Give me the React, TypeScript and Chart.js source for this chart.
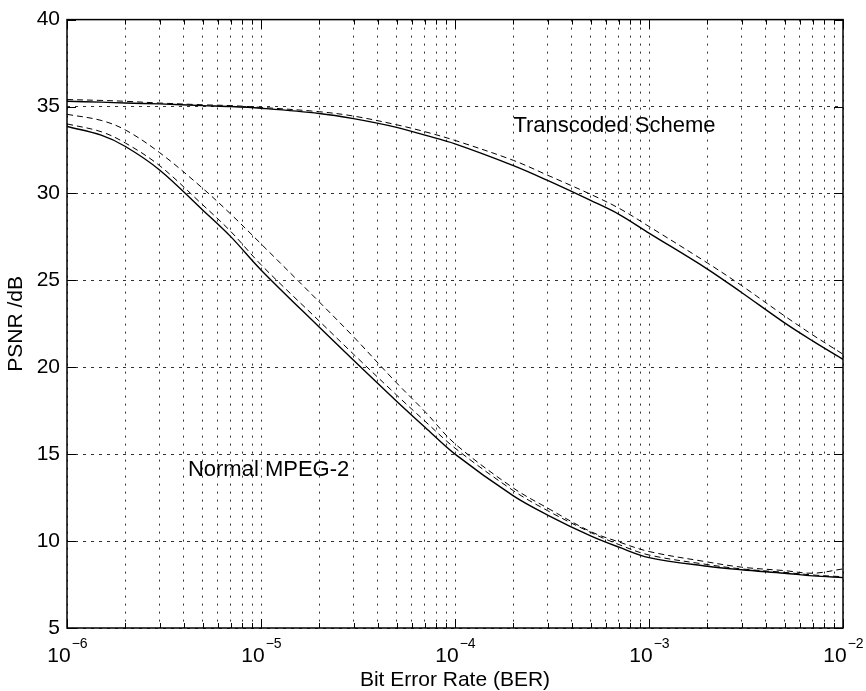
import React, { useEffect, useRef } from "react";
import { Chart, registerables } from "chart.js";

Chart.register(...registerables);

// ---- data ----
const BER = [1e-6, 1.5e-6, 2e-6, 3e-6, 5e-6, 7e-6, 1e-5, 2e-5, 3e-5, 5e-5, 7e-5, 1e-4, 2e-4, 3e-4, 5e-4, 7e-4, 1e-3, 2e-3, 3e-3, 5e-3, 7e-3, 1e-2];
const transcodedSolid = [35.3, 35.25, 35.2, 35.15, 35.05, 35.0, 34.9, 34.6, 34.3, 33.8, 33.35, 32.85, 31.6, 30.75, 29.6, 28.8, 27.72, 25.65, 24.3, 22.55, 21.5, 20.45];
const transcodedDashed = [35.4, 35.35, 35.3, 35.2, 35.1, 35.05, 34.95, 34.7, 34.45, 33.95, 33.55, 33.05, 31.9, 31.05, 29.95, 29.15, 28.1, 26.0, 24.7, 22.95, 21.85, 20.75];
const mpegSolid = [33.85, 33.35, 32.7, 31.35, 29.05, 27.5, 25.6, 22.3, 20.4, 18.05, 16.55, 15.0, 12.6, 11.5, 10.3, 9.65, 9.05, 8.55, 8.35, 8.15, 8.0, 7.9];
const mpegDashedLow = [34.0, 33.55, 32.9, 31.6, 29.35, 27.8, 25.9, 22.65, 20.75, 18.4, 16.9, 15.35, 12.9, 11.75, 10.5, 9.8, 9.2, 8.65, 8.4, 8.2, 8.05, 7.95];
const mpegDashedHigh = [34.55, 34.2, 33.65, 32.35, 30.3, 28.8, 27.1, 23.75, 21.75, 19.1, 17.45, 15.6, 13.05, 11.9, 10.55, 9.95, 9.4, 8.8, 8.5, 8.3, 8.15, 8.4];

const X_DECADES = [1e-6, 1e-5, 1e-4, 1e-3, 1e-2];
const X_EXPONENTS = ["\u22126", "\u22125", "\u22124", "\u22123", "\u22122"];
const X_MINOR_MULT = [2, 3, 4, 5, 6, 7, 8, 9];
const Y_MIN = 5;
const Y_MAX = 40;
const Y_STEP = 5;

const ANNOTATIONS = [
  { text: "Transcoded Scheme", x: 2.0e-4, y: 33.9 },
  { text: "Normal MPEG-2", x: 4.2e-6, y: 14.1 },
];

const FONT = "'Liberation Sans', Arial, Helvetica, sans-serif";

const X_TICKS: { value: number; major: boolean }[] = [];
X_DECADES.forEach((d, i) => {
  X_TICKS.push({ value: d, major: true });
  if (i < X_DECADES.length - 1) X_MINOR_MULT.forEach((m) => X_TICKS.push({ value: d * m, major: false }));
});

const toPoints = (ys: number[]) => BER.map((x, i) => ({ x, y: ys[i] }));

const framePlugin = {
  id: "matlabFrame",
  afterDraw(chart: any) {
    const { ctx, chartArea: a, scales } = chart;
    const xs = scales.x;
    const ys = scales.y;
    ctx.save();
    ctx.setLineDash([]);
    ctx.strokeStyle = "#000";
    // inner ticks
    ctx.lineWidth = 1;
    ctx.beginPath();
    for (const t of X_TICKS) {
      const px = Math.round(xs.getPixelForValue(t.value)) + 0.5;
      const len = t.major ? 9 : 5;
      ctx.moveTo(px, a.bottom);
      ctx.lineTo(px, a.bottom - len);
      ctx.moveTo(px, a.top);
      ctx.lineTo(px, a.top + len);
    }
    for (let v = Y_MIN; v <= Y_MAX; v += Y_STEP) {
      const py = Math.round(ys.getPixelForValue(v)) + 0.5;
      ctx.moveTo(a.left, py);
      ctx.lineTo(a.left + 9, py);
      ctx.moveTo(a.right, py);
      ctx.lineTo(a.right - 9, py);
    }
    ctx.stroke();
    // frame
    ctx.lineWidth = 1.5;
    ctx.strokeRect(a.left, a.top, a.right - a.left, a.bottom - a.top);

    // x tick labels 10^n
    ctx.fillStyle = "#000";
    ctx.textBaseline = "alphabetic";
    ctx.textAlign = "left";
    X_DECADES.forEach((d, i) => {
      const px = xs.getPixelForValue(d);
      ctx.font = `21px ${FONT}`;
      const wBase = ctx.measureText("10").width;
      ctx.font = `14px ${FONT}`;
      const wExp = ctx.measureText(X_EXPONENTS[i]).width;
      const start = px - (wBase + wExp) / 2;
      ctx.font = `21px ${FONT}`;
      ctx.fillText("10", start, a.bottom + 34);
      ctx.font = `14px ${FONT}`;
      ctx.fillText(X_EXPONENTS[i], start + wBase + 1, a.bottom + 20);
    });

    // annotations
    ctx.font = `22px ${FONT}`;
    ctx.textBaseline = "middle";
    ctx.textAlign = "left";
    for (const an of ANNOTATIONS) {
      ctx.fillText(an.text, xs.getPixelForValue(an.x), ys.getPixelForValue(an.y));
    }
    ctx.restore();
  },
};

export default function App() {
  const canvasRef = useRef<HTMLCanvasElement | null>(null);

  useEffect(() => {
    if (!canvasRef.current) return;
    const solid = { borderColor: "#000", borderWidth: 1.4, pointRadius: 0, fill: false, tension: 0.35 };
    const dashed = { borderColor: "#000", borderWidth: 1, borderDash: [6, 4], pointRadius: 0, fill: false, tension: 0.35 };
    const chart = new Chart(canvasRef.current, {
      type: "line",
      data: {
        datasets: [
          { label: "Transcoded Scheme (solid)", data: toPoints(transcodedSolid), ...solid },
          { label: "Transcoded Scheme (dashed)", data: toPoints(transcodedDashed), ...dashed },
          { label: "Normal MPEG-2 (solid)", data: toPoints(mpegSolid), ...solid },
          { label: "Normal MPEG-2 (dashed, low)", data: toPoints(mpegDashedLow), ...dashed },
          { label: "Normal MPEG-2 (dashed, high)", data: toPoints(mpegDashedHigh), ...dashed },
        ],
      },
      options: {
        responsive: false,
        animation: false,
        layout: { padding: { top: 15, right: 23, left: 0, bottom: 0 } },
        plugins: { legend: { display: false }, tooltip: { enabled: false } },
        scales: {
          x: {
            type: "logarithmic",
            min: 1e-6,
            max: 1e-2,
            afterBuildTicks: (scale: any) => {
              scale.ticks = X_TICKS.map((t) => ({ value: t.value }));
            },
            afterFit: (scale: any) => {
              scale.height = 63;
            },
            ticks: { display: false },
            grid: { color: "#333", lineWidth: 1, drawTicks: false },
            border: { display: false, dash: [2, 6] },
            title: {
              display: true,
              text: "Bit Error Rate (BER)",
              color: "#000",
              font: { family: FONT, size: 21, lineHeight: 1 },
              padding: { top: 0, bottom: 0 },
            },
          },
          y: {
            type: "linear",
            min: Y_MIN,
            max: Y_MAX,
            afterFit: (scale: any) => {
              scale.width = 67;
            },
            ticks: { stepSize: Y_STEP, color: "#000", font: { family: FONT, size: 21 }, padding: 7 },
            grid: { color: "#333", lineWidth: 1, drawTicks: false },
            border: { display: false, dash: [3, 5] },
            title: {
              display: true,
              text: "PSNR /dB",
              color: "#000",
              font: { family: FONT, size: 21, lineHeight: 1 },
              padding: { top: 6, bottom: 0 },
            },
          },
        },
      },
      plugins: [framePlugin],
    });
    return () => chart.destroy();
  }, []);

  return (
    <div style={{ position: "fixed", left: 0, top: 0, width: 866, height: 691, background: "#fff" }}>
      <canvas ref={canvasRef} width={866} height={691} style={{ display: "block" }} />
    </div>
  );
}
